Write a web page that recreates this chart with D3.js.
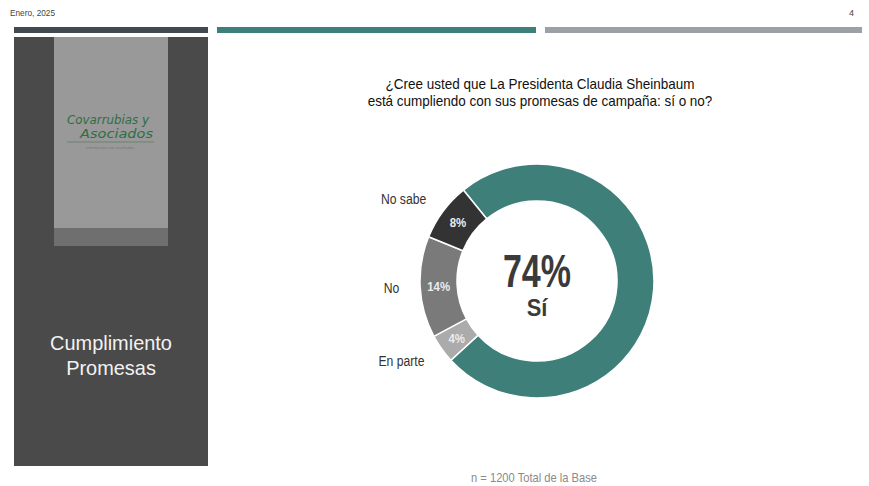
<!DOCTYPE html>
<html>
<head>
<meta charset="utf-8">
<script src="https://cdn.jsdelivr.net/npm/d3@7"></script>
<style>
  body { margin: 0; background: #fff; }
  svg { display: block; font-family: "Liberation Sans", Arial, sans-serif; }
</style>
</head>
<body>
<div id="chart"></div>
<script>
// data
var categories = ["Sí", "En parte", "No", "No sabe"];
var values = [74, 4, 14, 8];
var sliceColors = ["#3e8079", "#ababab", "#7a7a7a", "#333333"];
var question = ["¿Cree usted que La Presidenta Claudia Sheinbaum",
                "está cumpliendo con sus promesas de campaña: sí o no?"];
var sideTitle = ["Cumplimiento", "Promesas"];

var width = 869, height = 486;

var svg = d3.select("#chart")
  .append("svg")
    .attr("width", width)
    .attr("height", height);

// the slide font is a narrow one, squeeze Liberation Sans to fake it
function narrow(x, y, k) {
  return "translate(" + x + "," + y + ") scale(" + k + ",1)";
}

// header
svg.append("text").attr("transform", narrow(10, 16, 0.92))
    .text("Enero, 2025").style("font-size", "9px").style("fill", "#444");
svg.append("text").attr("x", 854).attr("y", 16).attr("text-anchor", "end")
    .text("4").style("font-size", "9px").style("fill", "#444");

// the three colour bars on top
var bars = [{x0: 14, x1: 208, c: "#3f4b51"},
            {x0: 217, x1: 536, c: "#3d8079"},
            {x0: 545, x1: 862, c: "#9ba1a7"}];
svg.selectAll("rect.bar")
    .data(bars)
    .enter()
    .append("rect")
      .attr("x", d => d.x0)
      .attr("y", 27)
      .attr("width", d => d.x1 - d.x0)
      .attr("height", 6)
      .style("fill", d => d.c);

// left panel
svg.append("rect").attr("x", 14).attr("y", 37).attr("width", 194).attr("height", 429).style("fill", "#4a4a4a");
svg.append("rect").attr("x", 54).attr("y", 37).attr("width", 114).attr("height", 191).style("fill", "#999999");
svg.append("rect").attr("x", 54).attr("y", 228).attr("width", 114).attr("height", 18).style("fill", "#6f6f6f");

// logo
svg.append("text").attr("x", 67).attr("y", 124)
    .attr("textLength", 82).attr("lengthAdjust", "spacingAndGlyphs")
    .text("Covarrubias y")
    .style("font-family", "'DejaVu Sans', sans-serif").style("font-style", "italic")
    .style("font-size", "13px").style("fill", "#2f6e43");
svg.append("text").attr("x", 80).attr("y", 138)
    .attr("textLength", 73).attr("lengthAdjust", "spacingAndGlyphs")
    .text("Asociados")
    .style("font-family", "'DejaVu Sans', sans-serif").style("font-style", "italic")
    .style("font-size", "13px").style("fill", "#2f6e43");
svg.append("line").attr("x1", 67).attr("x2", 154).attr("y1", 142).attr("y2", 142)
    .style("stroke", "#5f7f66").style("stroke-width", 0.8);
svg.append("text").attr("x", 110).attr("y", 148.5).attr("text-anchor", "middle")
    .text("información con resultados").style("font-size", "4px").style("fill", "#777");

svg.selectAll("text.side")
    .data(sideTitle)
    .enter()
    .append("text")
      .attr("transform", (d, i) => narrow(111, 350 + i * 25, 0.95))
      .attr("text-anchor", "middle")
      .text(d => d)
      .style("font-size", "21px")
      .style("fill", "#f2f2f2");

// question
svg.selectAll("text.q")
    .data(question)
    .enter()
    .append("text")
      .attr("transform", (d, i) => narrow(540, 89 + i * 16.5, 0.9))
      .attr("text-anchor", "middle")
      .text(d => d)
      .style("font-size", "15px")
      .style("fill", "#111");

// donut
var cx = 537, cy = 281, outerR = 117, innerR = 80;
var g = svg.append("g").attr("transform", "translate(" + cx + "," + cy + ")");

var data = categories.map(function(c, i) { return {name: c, value: values[i], color: sliceColors[i]}; });

var pie = d3.pie()
    .sort(null)
    .value(d => d.value)
    .startAngle(-39 * Math.PI / 180)
    .endAngle(321 * Math.PI / 180);

var arc = d3.arc().innerRadius(innerR).outerRadius(outerR);
var labelArc = d3.arc().innerRadius(138).outerRadius(138);

var arcs = pie(data);

g.selectAll("path")
    .data(arcs)
    .enter()
    .append("path")
      .attr("d", arc)
      .style("fill", d => d.data.color)
      .style("stroke", "#fff")
      .style("stroke-width", 1.5);

// percentages inside the small slices
g.selectAll("text.pct")
    .data(arcs.slice(1))
    .enter()
    .append("text")
      .attr("transform", d => { var c = arc.centroid(d); return narrow(c[0], c[1] + 4.5, 0.88); })
      .attr("text-anchor", "middle")
      .text(d => d.data.value + "%")
      .style("font-size", "13px")
      .style("font-weight", "bold")
      .style("fill", "#ececec");

// category names outside
g.selectAll("text.cat")
    .data(arcs.slice(1))
    .enter()
    .append("text")
      .attr("transform", d => { var c = labelArc.centroid(d); return narrow(c[0], c[1] + 5, 0.87); })
      .attr("text-anchor", "end")
      .text(d => d.data.name)
      .style("font-size", "14px")
      .style("fill", "#333");

// big number in the middle
g.append("text").attr("transform", narrow(0, 6, 0.74)).attr("text-anchor", "middle")
    .text(values[0] + "%")
    .style("font-size", "46px").style("font-weight", "bold").style("fill", "#3a3a3a");
g.append("text").attr("transform", narrow(0, 35, 0.95)).attr("text-anchor", "middle")
    .text(categories[0])
    .style("font-size", "23px").style("font-weight", "bold").style("fill", "#3a3a3a");

// footer
svg.append("text").attr("transform", narrow(534, 482, 0.93)).attr("text-anchor", "middle")
    .text("n = 1200 Total de la Base").style("font-size", "12px").style("fill", "#8a8a8a");
</script>
</body>
</html>
